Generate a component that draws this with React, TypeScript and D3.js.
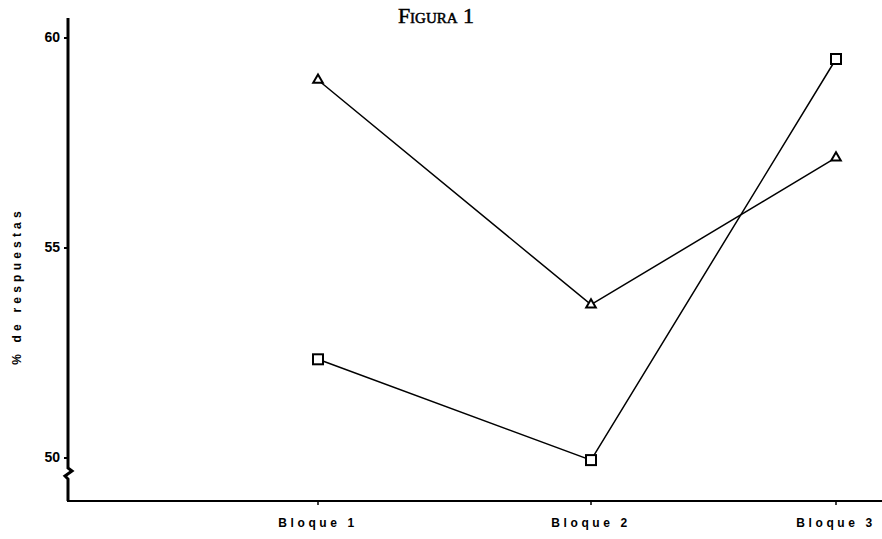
import React from "react";
import * as d3 from "d3";

const categories = ["Bloque 1", "Bloque 2", "Bloque 3"];
const triangleSeries = [59.0, 53.65, 57.15];
const squareSeries = [52.35, 49.95, 59.5];
const yTicks = [50, 55, 60];

export default function App() {
  const W = 882, H = 539;
  const x = d3.scaleOrdinal<string, number>().domain(categories).range([318, 591, 836]);
  const y = d3.scaleLinear().domain([50, 60]).range([458, 38]);
  const line = d3.line<number>().x((_, i) => x(categories[i])).y((d) => y(d));
  const axisX = 68;
  const baseY = 501;
  const tri = d3.symbol().type(d3.symbolTriangle).size(40);

  return (
    <svg width={W} height={H} style={{ position: "absolute", left: 0, top: 0, background: "#fff" }}>
      <text x={436} y={23} textAnchor="middle" fontFamily="Liberation Serif, serif" fontSize={22} stroke="#000" strokeWidth={0.5} style={{ fontVariant: "small-caps" }}>
        Figura 1
      </text>
      {/* y axis with break */}
      <path
        d={`M${axisX},18 L${axisX},468 L${axisX + 4},471 L${axisX - 3},476 L${axisX},479 L${axisX},${baseY}`}
        fill="none" stroke="#000" strokeWidth={3}
      />
      <line x1={axisX - 1} y1={baseY} x2={882} y2={baseY} stroke="#000" strokeWidth={2.2} />
      {yTicks.map((t) => (
        <g key={t}>
          <line x1={axisX - 4} x2={axisX} y1={y(t)} y2={y(t)} stroke="#000" strokeWidth={2} />
          <text x={axisX - 8} y={y(t) + 4} textAnchor="end" fontFamily="Liberation Sans, Arial, sans-serif" fontWeight="bold" fontSize={14}>
            {t}
          </text>
        </g>
      ))}
      {categories.map((c) => (
        <g key={c}>
          <line x1={x(c)} x2={x(c)} y1={baseY} y2={baseY + 4} stroke="#000" strokeWidth={1.5} />
          <text x={x(c)} y={527} textAnchor="middle" fontFamily="Liberation Sans, Arial, sans-serif" fontWeight="bold" fontSize={12} letterSpacing={3.6}>
            {c}
          </text>
        </g>
      ))}
      <text
        transform="translate(21,286) rotate(-90)"
        textAnchor="middle" fontFamily="Liberation Sans, Arial, sans-serif" fontWeight="bold" fontSize={12} letterSpacing={4.2}
      >
        % de respuestas
      </text>
      <path d={line(triangleSeries) || ""} fill="none" stroke="#000" strokeWidth={1.5} />
      <path d={line(squareSeries) || ""} fill="none" stroke="#000" strokeWidth={1.5} />
      {triangleSeries.map((v, i) => (
        <path key={"t" + i} d={tri() || ""} transform={`translate(${x(categories[i])},${y(v)})`} fill="#fff" stroke="#000" strokeWidth={2} />
      ))}
      {squareSeries.map((v, i) => (
        <rect key={"s" + i} x={x(categories[i]) - 5} y={y(v) - 5} width={10} height={10} fill="#fff" stroke="#000" strokeWidth={2} />
      ))}
    </svg>
  );
}
